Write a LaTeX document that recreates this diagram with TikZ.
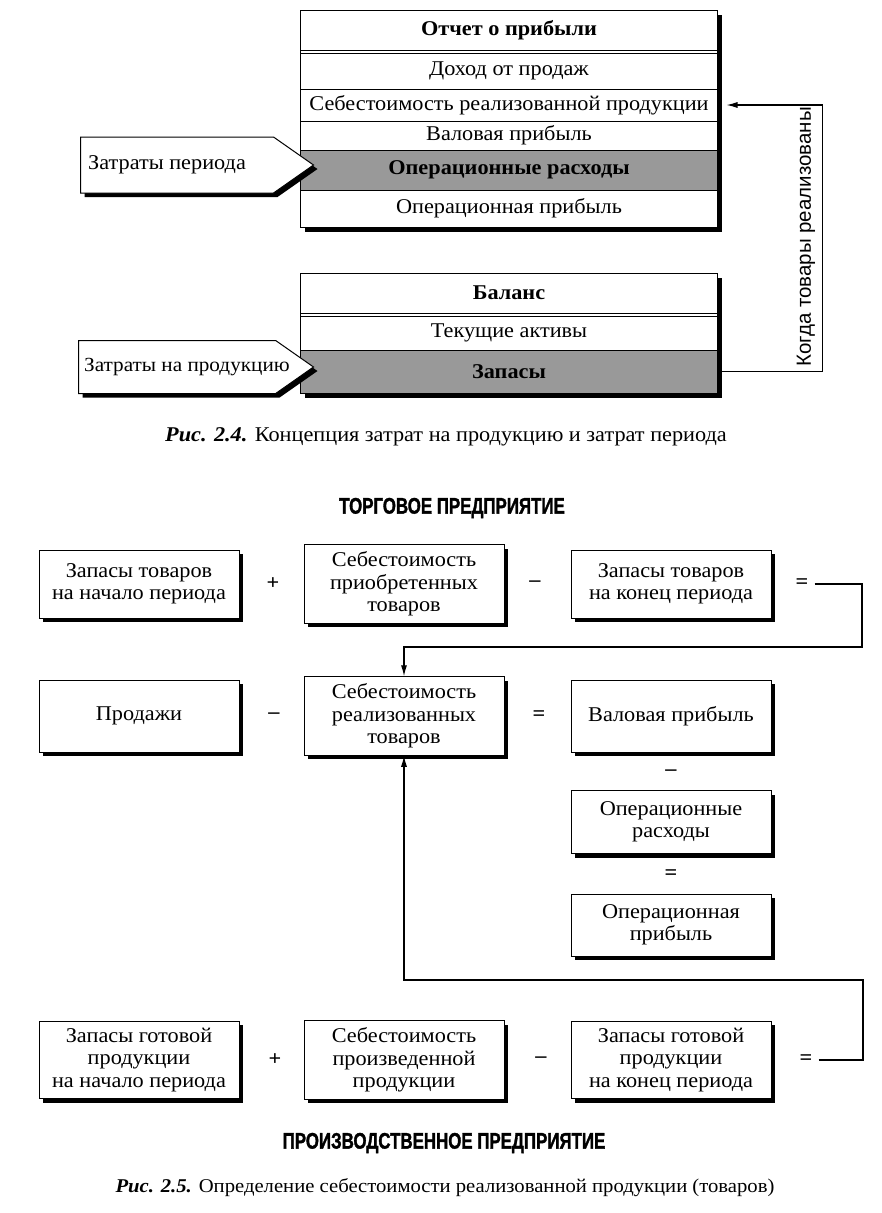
\documentclass[tikz,border=0pt]{standalone}
\usepackage{fontspec}
\setmainfont[FakeStretch=1.06]{Liberation Serif}
\newfontfamily\sansf{Liberation Sans}
\newfontfamily\headf[FakeStretch=0.75, BoldFeatures={FakeBold=1.5}]{Liberation Sans}
\usetikzlibrary{shapes,arrows,arrows.meta,positioning,calc,shadows}
\tikzset{
shadowed/.style = {drop shadow={shadow xshift=4pt, shadow yshift=-4pt, fill=black, opacity=1}},
block/.style = {draw, fill=white, rectangle, line width=1pt, minimum width=200pt, minimum height=68pt, align=center, shadowed},
frame/.style = {draw, fill=white, rectangle, line width=1pt, minimum width=417pt, anchor=north west, inner sep=0pt, shadowed},
row/.style = {draw, rectangle, line width=0.8pt, minimum width=417pt, inner sep=0pt, outer sep=0pt, anchor=north},
shrow/.style = {row, fill=black!40, font=\bfseries},
flag/.style = {draw, fill=white, signal, signal to=east, signal pointer angle=70, line width=1pt, minimum width=233pt, anchor=west, shadowed},
op/.style = {font=\bfseries, inner sep=6pt},
head/.style = {font=\headf\bfseries\fontsize{22.5}{26}\selectfont},
tmp/.style = {coordinate},
line/.style = {line width=1.2pt}
}
\begin{document}
\fontsize{21}{22.5}\selectfont
\begin{tikzpicture}[x=1pt, y=-1pt, >={Latex[length=11pt,width=6pt]}]
\fill[white] (0,0) rectangle (882,1213);
\useasboundingbox (0,0) rectangle (882,1213);
% income statement
\node[frame, minimum height=217pt] (is) at (300,10) {};
\node[row, minimum height=40pt] (ishead) at (is.north) {\bfseries Отчет о прибыли};
\node[row, minimum height=36pt, below=3pt of ishead] (rev) {Доход от продаж};
\node[row, minimum height=32pt, below=0pt of rev] (cogs) {Себестоимость реализованной продукции};
\node[row, minimum height=29pt, below=0pt of cogs] (gross) {Валовая прибыль};
\node[shrow, minimum height=40pt, below=0pt of gross] (opex) {Операционные расходы};
\node[row, minimum height=37pt, below=0pt of opex] (opinc) {Операционная прибыль};
% balance
\node[frame, minimum height=120pt] (bal) at (300,273) {};
\node[row, minimum height=40pt] (balhead) at (bal.north) {\bfseries Баланс};
\node[row, minimum height=34pt, below=3pt of balhead] (cur) {Текущие активы};
\node[shrow, minimum height=43pt, below=0pt of cur] (inv) {Запасы};
\node[flag, minimum height=56pt] (period) at (80,165) {};
\node[anchor=west, inner sep=0pt] (periodtxt) at ([xshift=8pt]period.west) {Затраты периода};
\node[flag, minimum height=53pt, minimum width=235pt] (product) at (78,367) {};
\node[anchor=west, inner sep=0pt, font=\fontsize{20}{22}\selectfont] (producttxt) at ([xshift=6pt]product.west) {Затраты на продукцию};
\draw[line,->] (inv.east) -- ++(105,0) |- ([xshift=9pt]cogs.east);
\node[rotate=90, font=\sansf\fontsize{20.5}{24}\selectfont] (when) at (806,237) {Когда товары реализованы};
\node (cap1) at (446,437) {{\bfseries\itshape Рис. 2.4.} Концепция затрат на продукцию и затрат периода};
% trading company
\node[head] (trade) at (452,508) {ТОРГОВОЕ ПРЕДПРИЯТИЕ};
\node[block] (begst) at (139,584) {Запасы товаров\\на начало периода};
\node[op, right of=begst, node distance=134pt] (plus1) {+};
\node[block, right of=begst, node distance=265pt] (purch) {Себестоимость\\приобретенных\\товаров};
\node[op, right of=purch, node distance=131pt] (minus1) {--};
\node[block, right of=purch, node distance=267pt] (endst) {Запасы товаров\\на конец периода};
\node[op, right of=endst, node distance=131pt] (eq1) {=};
\node[block, below of=begst, node distance=132pt, minimum height=72pt] (sales) {Продажи};
\node[op, right of=sales, node distance=135pt] (minus2) {--};
\node[block, below of=purch, node distance=132pt, minimum height=72pt] (cogs2) {Себестоимость\\реализованных\\товаров};
\node[op, right of=cogs2, node distance=135pt] (eq2) {=};
\node[block, below of=endst, node distance=132pt, minimum height=72pt] (gross2) {Валовая прибыль};
\node[op, below of=gross2, node distance=57pt] (minus3) {--};
\node[block, below of=gross2, node distance=106pt, minimum height=63pt] (opex2) {Операционные\\расходы};
\node[op, below of=opex2, node distance=53pt] (eq4) {=};
\node[block, below of=opex2, node distance=103pt, minimum height=62pt] (opinc2) {Операционная\\прибыль};
% manufacturing company
\node[block, below of=sales, node distance=344pt, minimum height=76pt] (begfg) {Запасы готовой\\продукции\\на начало периода};
\node[op, right of=begfg, node distance=136pt] (plus2) {+};
\node[block, below of=cogs2, node distance=344pt, minimum height=76pt] (prod) {Себестоимость\\произведенной\\продукции};
\node[op, right of=prod, node distance=137pt] (minus4) {--};
\node[block, below of=gross2, node distance=344pt, minimum height=76pt] (endfg) {Запасы готовой\\продукции\\на конец периода};
\node[op, right of=endfg, node distance=135pt] (eq3) {=};
\coordinate (t1) at (862,647);
\coordinate (t2) at (863,980);
\draw[line,->] (eq1.east) -| (t1) -| (cogs2.north);
\draw[line,->] (eq3.east) -| (t2) -| (cogs2.south);
\node[head] (manuf) at (444,1143) {ПРОИЗВОДСТВЕННОЕ ПРЕДПРИЯТИЕ};
\node[font=\fontsize{19.5}{22}\selectfont] (cap2) at (445,1188) {{\bfseries\itshape Рис. 2.5.} Определение себестоимости реализованной продукции (товаров)};
\end{tikzpicture}
\end{document}
